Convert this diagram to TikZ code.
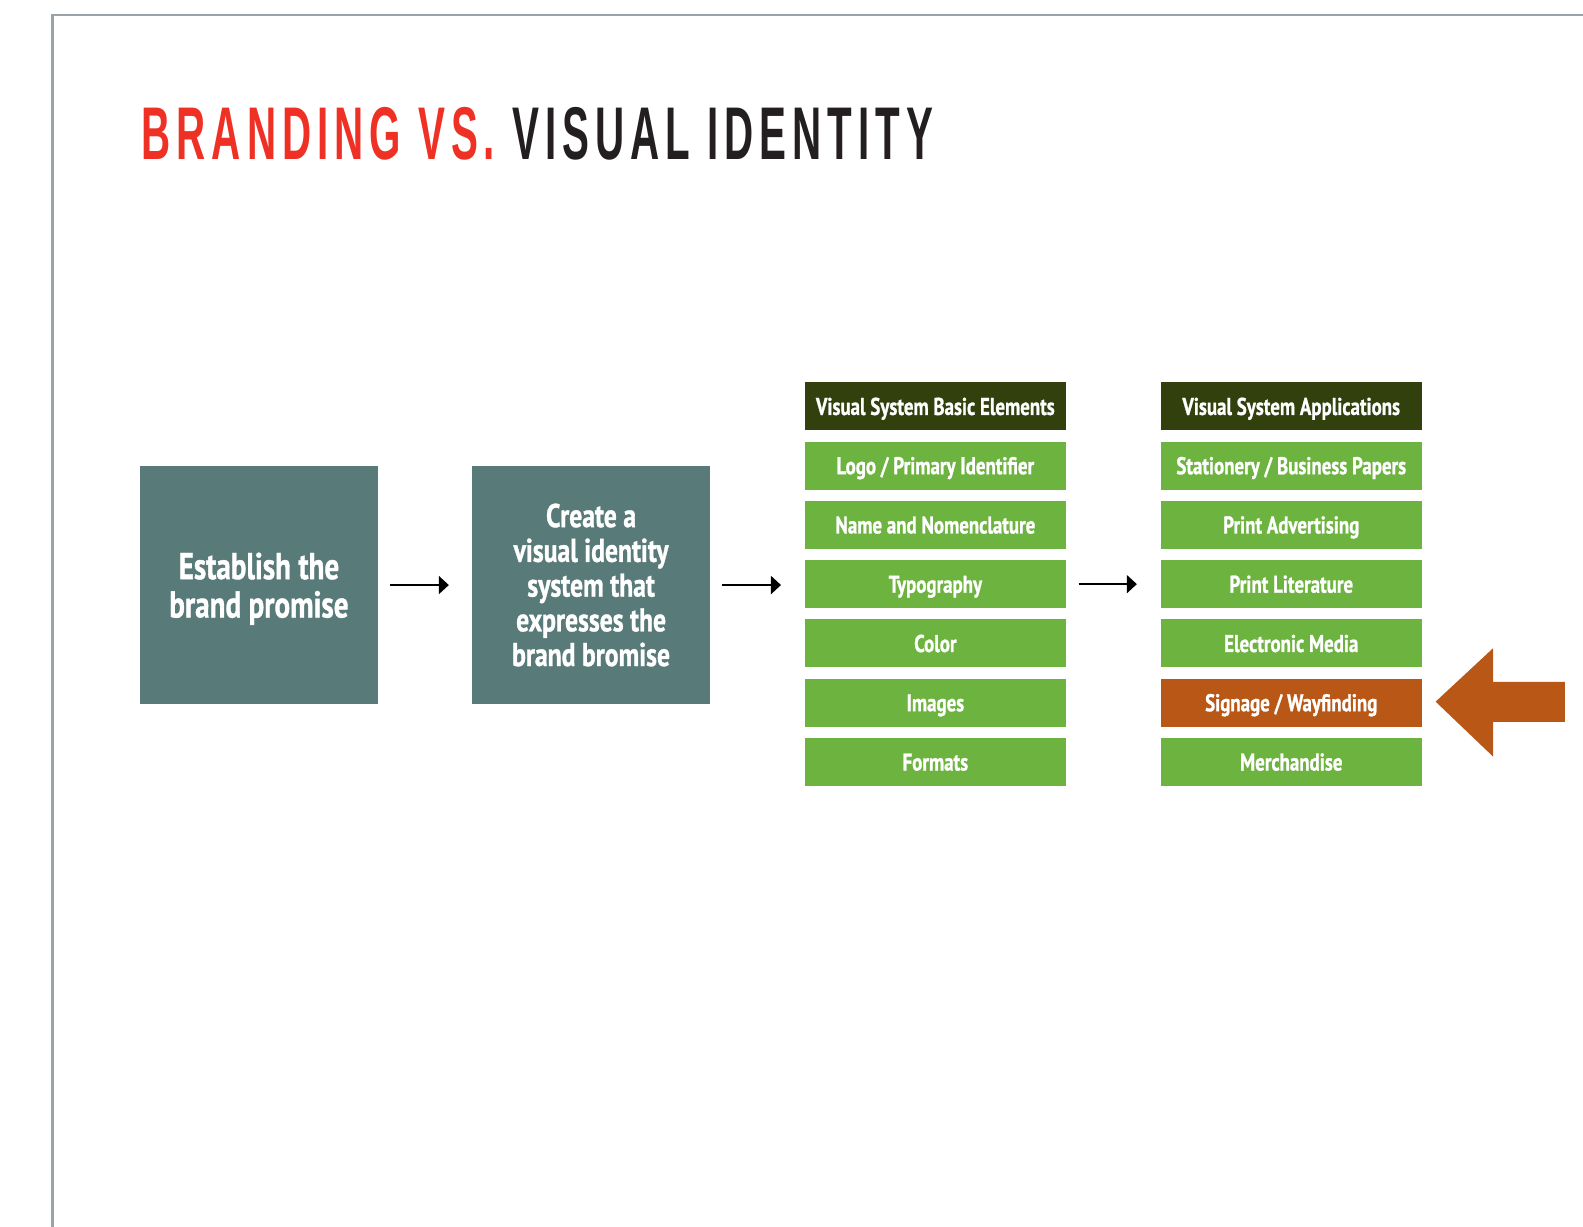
\documentclass[tikz,border=0pt]{standalone}
\usepackage{fontspec}
\usepackage{tikz}
\usetikzlibrary{arrows.meta}

\newfontfamily\titlefont[FakeStretch=0.54,LetterSpace=8]{Liberation Sans}
\newfontfamily\cardfont[FakeStretch=0.78,BoldFeatures={FakeBold=1}]{PT Sans}

\definecolor{titlered}{RGB}{238,49,36}
\definecolor{titledark}{RGB}{35,31,32}
\definecolor{slate}{RGB}{88,122,121}
\definecolor{headgreen}{RGB}{50,64,14}
\definecolor{leaf}{RGB}{109,179,63}
\definecolor{rust}{RGB}{184,87,22}
\definecolor{frame}{RGB}{154,163,168}

\tikzset{
    square/.style={fill=slate, text=white, minimum width=117.5pt, minimum height=117.5pt,
        inner sep=0pt, align=center, font=\cardfont\bfseries\fontsize{16.3}{17.2}\selectfont},
    header/.style={fill=headgreen, text=white, minimum width=129.5pt, minimum height=23.75pt,
        inner sep=0pt, text height=0.95em, text depth=0.1em,
        font=\cardfont\bfseries\fontsize{12}{13}\selectfont},
    item/.style={header, fill=leaf},
    flow/.style={-{Triangle[length=5pt,width=9pt]}, line width=0.8pt, shorten <=6pt, shorten >=11.5pt}
}

\begin{document}
\begin{tikzpicture}[x=0.5pt, y=-0.5pt]
        \useasboundingbox (0, 0) rectangle (1568, 1215);

        \draw [frame, line width=1pt] (52, 1215) -- (52, 15) -- (1568, 15);

        \node [anchor=base west, inner sep=0pt, font=\titlefont\bfseries\fontsize{37}{37}\selectfont] (T) at (140, 158)
            {\textcolor{titlered}{BRANDING VS.} \textcolor{titledark}{VISUAL IDENTITY}};

        \node [square, font=\cardfont\bfseries\fontsize{18.5}{19}\selectfont, text depth=0pt] (S1) at (256.5, 579.5) {Establish the\\brand promise};
        \node [square] (S2) at (585.5, 579.5) {Create a\\visual identity\\system that\\expresses the\\brand bromise};

        \node [header] (E0) at (926.5, 402.5) {Visual System Basic Elements};
        \node [item] (E1) at (926.5, 461.2) {Logo / Primary Identifier};
        \node [item] (E2) at (926.5, 519.9) {Name and Nomenclature};
        \node [item] (E3) at (926.5, 578.6) {Typography};
        \node [item] (E4) at (926.5, 637.3) {Color};
        \node [item] (E5) at (926.5, 696) {Images};
        \node [item] (E6) at (926.5, 754.7) {Formats};

        \node [header] (P0) at (1279, 402.5) {Visual System Applications};
        \node [item] (P1) at (1279, 461.2) {Stationery / Business Papers};
        \node [item] (P2) at (1279, 519.9) {Print Advertising};
        \node [item] (P3) at (1279, 578.6) {Print Literature};
        \node [item] (P4) at (1279, 637.3) {Electronic Media};
        \node [item, fill=rust] (P5) at (1279, 696) {Signage / Wayfinding};
        \node [item] (P6) at (1279, 754.7) {Merchandise};

        \draw [flow] (S1.east) -- (S2.west);
        \draw [flow] (S2.east) -- (S2.east -| E3.west);
        \draw [flow] (E3.east) -- (P3.west);

        % pointer at the highlighted row
        \fill [rust] (1422, 695) -- (1479, 642) -- (1479, 675.5) -- (1550, 675.5)
            -- (1550, 715) -- (1479, 715) -- (1479, 749.5) -- cycle;
    \end{tikzpicture}
\end{document}
